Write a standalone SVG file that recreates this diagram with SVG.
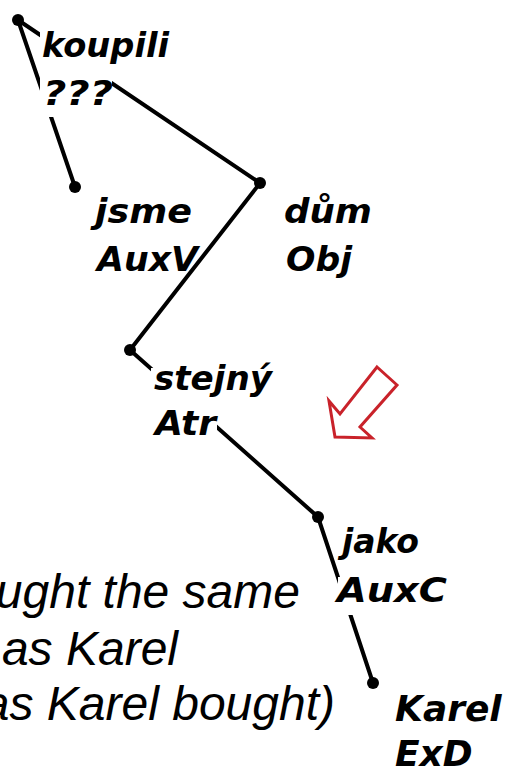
<svg xmlns="http://www.w3.org/2000/svg" width="505" height="772" viewBox="0 0 505 772">
<style>
.edge{stroke:#000;stroke-width:4;fill:none;stroke-linecap:round}
.dot{fill:#000}
.lbl{font-family:"DejaVu Sans",Verdana,sans-serif;font-weight:bold;font-style:oblique;font-size:33px;fill:#000}
.lbl2{font-size:36px}
.mask{fill:#fff}
.big{font-family:"Liberation Sans",Arial,sans-serif;font-style:italic;font-size:48px;fill:#000;text-anchor:end}
</style>
<rect width="505" height="772" fill="#fff"/>
<g id="connectors">
<line class="edge" x1="18" y1="20" x2="75" y2="187"/>
<line class="edge" x1="18" y1="20" x2="260" y2="183"/>
<line class="edge" x1="260" y1="183" x2="130" y2="350"/>
<line class="edge" x1="130" y1="350" x2="318" y2="517"/>
<line class="edge" x1="318" y1="517" x2="373" y2="683"/>
</g>
<g id="node-koupili">
<rect class="mask" x="40" y="27" width="134" height="35"/>
<rect class="mask" x="40" y="62" width="72" height="55"/>
<circle class="dot" cx="18" cy="20" r="6"/>
<text class="lbl" x="42" y="57" textLength="127" lengthAdjust="spacingAndGlyphs">koupili</text>
<text class="lbl" x="43" y="105" textLength="70" lengthAdjust="spacingAndGlyphs">???</text>
</g>
<g id="node-jsme">
<circle class="dot" cx="75" cy="187" r="6"/>
<text class="lbl" x="95" y="223" textLength="97" lengthAdjust="spacingAndGlyphs">jsme</text>
<text class="lbl" x="97" y="271" textLength="101" lengthAdjust="spacingAndGlyphs">AuxV</text>
</g>
<g id="node-dum">
<circle class="dot" cx="260" cy="183" r="6"/>
<text class="lbl" x="284" y="223" textLength="88" lengthAdjust="spacingAndGlyphs">dům</text>
<text class="lbl" x="286" y="271" textLength="66" lengthAdjust="spacingAndGlyphs">Obj</text>
</g>
<g id="node-stejny">
<rect class="mask" x="151" y="368" width="124" height="27"/>
<rect class="mask" x="151" y="395" width="66" height="45"/>
<circle class="dot" cx="130" cy="350" r="6"/>
<text class="lbl" x="154" y="390" textLength="118" lengthAdjust="spacingAndGlyphs">stejný</text>
<text class="lbl" x="155" y="435" textLength="61" lengthAdjust="spacingAndGlyphs">Atr</text>
</g>
<g id="node-jako">
<rect class="mask" x="338" y="577" width="112" height="38"/>
<circle class="dot" cx="318" cy="517" r="6"/>
<text class="lbl" x="342" y="553" textLength="77" lengthAdjust="spacingAndGlyphs">jako</text>
<text class="lbl" x="337" y="602" textLength="110" lengthAdjust="spacingAndGlyphs">AuxC</text>
</g>
<g id="node-karel">
<circle class="dot" cx="373" cy="683" r="6"/>
<text class="lbl lbl2" x="395" y="721">Karel</text>
<text class="lbl lbl2" x="395" y="766">ExD</text>
</g>
<g id="arrow">
<polygon points="377,367 397,385 360,427 372,438 335,437 329,401 340,414" fill="#fff" stroke="#c9222a" stroke-width="3"/>
</g>
<g id="caption">
<text class="big" x="300" y="608">ught the same</text>
<text class="big" x="178" y="665">as Karel</text>
<text class="big" x="335" y="720">as Karel bought)</text>
</g>
</svg>
